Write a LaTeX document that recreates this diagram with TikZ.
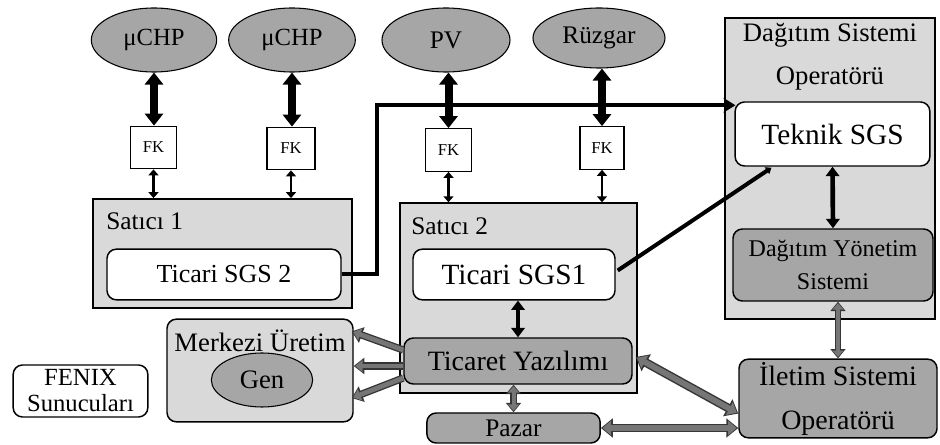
\documentclass[tikz,border=0pt]{standalone}
\usepackage{fontspec}
\setmainfont{Liberation Serif}
\usetikzlibrary{shapes.geometric, arrows.meta, calc}
\definecolor{panelgray}{HTML}{D9D9D9}
\definecolor{unitgray}{HTML}{A6A6A6}
\definecolor{pipegray}{HTML}{767676}
\definecolor{pipeedge}{HTML}{363636}
\tikzset{
  panel/.style={draw, line width=1.1pt, fill=panelgray, inner sep=0pt},
  softbox/.style={draw, line width=1.1pt, rounded corners=7pt, fill=white, inner sep=0pt, align=center},
  darkbox/.style={softbox, fill=unitgray},
  source/.style={ellipse, draw, line width=0.8pt, fill=unitgray, inner sep=0pt},
  fkbox/.style={draw, line width=0.8pt, fill=white, inner sep=0pt, minimum height=32pt, font=\fontsize{12.5}{14}\selectfont},
  power/.style={line width=6pt, {Triangle[width=13.5pt,length=9pt]}-{Triangle[width=13.5pt,length=9pt]}},
  signal/.style={line width=2.2pt, {Triangle[width=7.5pt,length=4.5pt]}-{Triangle[width=7.5pt,length=4.5pt]}},
  midsignal/.style={line width=3.5pt, {Triangle[width=10pt,length=7pt]}-{Triangle[width=10pt,length=7pt]}},
  datalink/.style={line width=3pt, -{Stealth[width=11pt,length=9pt,inset=3pt]}},
  gpipe/.style={line width=6.5pt, draw=pipeedge, {Triangle[width=14pt,length=9pt]}-{Triangle[width=14pt,length=9pt]},
    postaction={draw=pipegray, line width=4.3pt, {Triangle[width=10.5pt,length=6.5pt]}-{Triangle[width=10.5pt,length=6.5pt]}, shorten <=1.2pt, shorten >=1.2pt}},
  gpipeone/.style={line width=5.5pt, draw=pipeedge, -{Triangle[width=12pt,length=8pt]},
    postaction={draw=pipegray, line width=3.5pt, -{Triangle[width=9pt,length=5.5pt]}, shorten >=1.2pt}},
  gthin/.style={line width=5pt, draw=pipeedge, {Triangle[width=11pt,length=7pt]}-{Triangle[width=11pt,length=7pt]},
    postaction={draw=pipegray, line width=3pt, {Triangle[width=8pt,length=4.8pt]}-{Triangle[width=8pt,length=4.8pt]}, shorten <=1.1pt, shorten >=1.1pt}}
}
\begin{document}
\begin{tikzpicture}[x=0.75pt, y=-0.75pt]
\useasboundingbox (0,0) rectangle (940,445);

\node[source, minimum width=94pt, minimum height=48pt, font=\fontsize{18.5}{22}\selectfont] (chpa) at (154,40) {μCHP};
\node[source, minimum width=95pt, minimum height=48pt, font=\fontsize{18.5}{22}\selectfont] (chpb) at (292,40) {μCHP};
\node[source, minimum width=96pt, minimum height=48pt, font=\fontsize{19}{22}\selectfont] (pv) at (446,40) {PV};
\node[source, minimum width=99pt, minimum height=45pt, font=\fontsize{19}{22}\selectfont] (wind) at (599,38) {Rüzgar};

\node[fkbox, minimum width=35pt] (fka) at (153.5,147.5) {FK};
\node[fkbox, minimum width=36pt] (fkb) at (291,148.5) {FK};
\node[fkbox, minimum width=35pt] (fkc) at (448.5,150) {FK};
\node[fkbox, minimum width=33pt] (fkd) at (602,148) {FK};

\node[panel, minimum width=194pt, minimum height=82pt] (sat1) at (222.5,253.5) {};
\node[anchor=west, inner sep=0pt, font=\fontsize{19}{22}\selectfont] (sat1lbl) at (106,221.5) {Satıcı 1};
\node[softbox, minimum width=175.5pt, minimum height=38pt, font=\fontsize{19.5}{22}\selectfont] (tsgs2) at (224,274.5) {Ticari SGS 2};

\node[panel, minimum width=178pt, minimum height=142.5pt] (sat2) at (518.5,298) {};
\node[anchor=west, inner sep=0pt, font=\fontsize{19}{22}\selectfont] (sat2lbl) at (411,226) {Satıcı 2};
\node[softbox, minimum width=151.5pt, minimum height=38pt, font=\fontsize{22}{24}\selectfont] (tsgs1) at (514,274.5) {Ticari SGS1};
\node[darkbox, minimum width=171pt, minimum height=34.5pt, font=\fontsize{21}{24}\selectfont] (ticaret) at (518,361) {Ticaret Yazılımı};

\node[panel, minimum width=157.5pt, minimum height=226pt] (dso) at (830,168.5) {};
\node[inner sep=0pt, align=center, font=\fontsize{20}{32}\selectfont] (dsolbl) at (830,57) {Dağıtım Sistemi\\Operatörü};
\node[softbox, minimum width=146pt, minimum height=48pt, font=\fontsize{22}{24}\selectfont] (teknik) at (832.5,134) {Teknik SGS};
\node[darkbox, minimum width=150pt, minimum height=54pt, font=\fontsize{18}{25}\selectfont] (dys) at (833,265) {Dağıtım Yönetim\\Sistemi};

\node[darkbox, minimum width=148.5pt, minimum height=59pt, font=\fontsize{21}{33}\selectfont] (iso) at (838,398.5) {İletim Sistemi\\Operatörü};
\node[darkbox, minimum width=130pt, minimum height=22.5pt, font=\fontsize{19}{22}\selectfont] (pazar) at (513.5,428) {Pazar};

\node[softbox, fill=panelgray, minimum width=139.5pt, minimum height=77pt] (merkezi) at (260,370.5) {};
\node[inner sep=0pt, font=\fontsize{20}{22}\selectfont] (merkezilbl) at (260,341) {Merkezi Üretim};
\node[source, minimum width=76pt, minimum height=40.5pt, font=\fontsize{20}{22}\selectfont] (gen) at (262,380) {Gen};

\node[softbox, minimum width=101pt, minimum height=39pt, font=\fontsize{18.5}{19.5}\selectfont] (fenix) at (80.5,391) {FENIX\\Sunucuları};

\draw[power] (chpa.south) -- (chpa.south |- fka.north);
\draw[power] (chpb.south) -- (chpb.south |- fkb.north);
\draw[power] (fkc.north |- pv.south) -- (fkc.north);
\draw[power] (fkd.north |- wind.south) -- (fkd.north);

\draw[signal] (fka.south) -- (fka.south |- sat1.north);
\draw[signal] (fkb.south) -- (fkb.south |- sat1.north);
\draw[signal] (fkc.south) -- (fkc.south |- sat2.north);
\draw[signal] (fkd.south) -- (fkd.south |- sat2.north);

\coordinate (tin) at ($(teknik.north west)+(1,4)$);
\coordinate (tout) at ($(tsgs1.east)+(2,-4)$);
\coordinate (tbot) at ($(teknik.south west)+(37,1)$);
\draw[datalink] (tsgs2.east) -- ++(35,0) |- (tin);
\draw[line width=3pt, -{Triangle[width=6pt,length=4pt]}] (tout) -- (tbot);

\draw[midsignal] (teknik.south) -- (dys.north);
\draw[midsignal] (ticaret.north) -- (ticaret.north |- tsgs1.south);

\draw[gthin] (iso.north) -- (iso.north |- dys.south);
\draw[gthin] (pazar.north) -- (pazar.north |- ticaret.south);
\draw[gpipe] ($(ticaret.east)+(3,-4)$) -- ($(iso.south west)+(0,-25)$);
\draw[gpipe] (pazar.east) -- (pazar.east -| iso.west);

\draw[gpipeone] ($(ticaret.west)+(0,-11)$) -- ($(merkezi.north east)+(-2,13)$);
\draw[gpipeone] ($(ticaret.west)+(0,5)$) -- ($(merkezi.east)+(0,-4.5)$);
\draw[gpipeone] ($(ticaret.west)+(0,17)$) -- ($(merkezi.east)+(-2,27.5)$);
\end{tikzpicture}
\end{document}
